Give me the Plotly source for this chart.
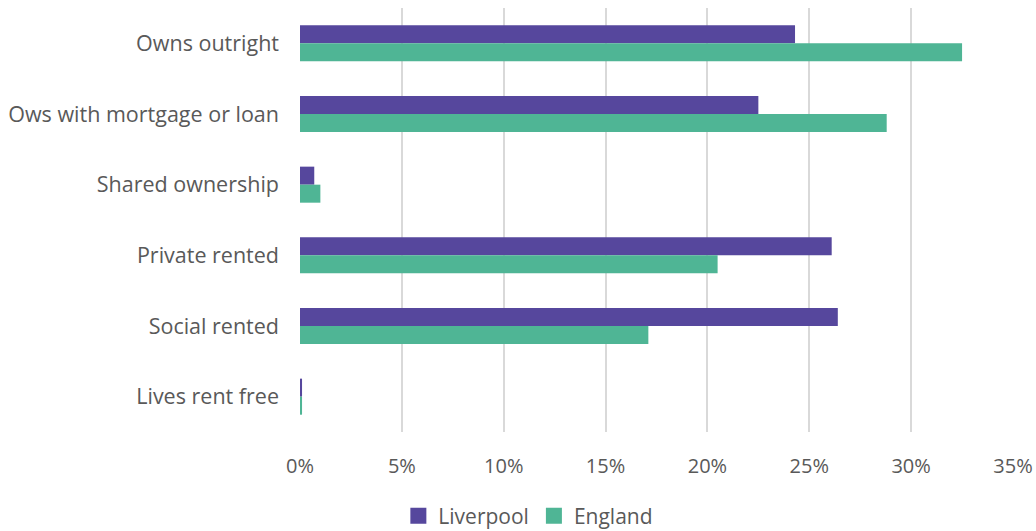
import plotly.graph_objects as go

categories = ["Owns outright", "Ows with mortgage or loan", "Shared ownership",
              "Private rented", "Social rented", "Lives rent free"]
liverpool = [24.3, 22.5, 0.7, 26.1, 26.4, 0.1]
england = [32.5, 28.8, 1.0, 20.5, 17.1, 0.1]
tick_vals = [0, 5, 10, 15, 20, 25, 30, 35]
tick_text = ["0%", "5%", "10%", "15%", "20%", "25%", "30%", "35%"]

font_family = "Open Sans"
text_color = "#595959"
col_liv = "#56479D"
col_eng = "#4FB595"

fig = go.Figure()
fig.add_trace(go.Bar(y=categories, x=liverpool, name="Liverpool", orientation="h",
                     marker=dict(color=col_liv, line=dict(width=0)), showlegend=False))
fig.add_trace(go.Bar(y=categories, x=england, name="England", orientation="h",
                     marker=dict(color=col_eng, line=dict(width=0)), showlegend=False))

# legend entries with larger square swatches
for name, col in [("Liverpool", col_liv), ("England", col_eng)]:
    fig.add_trace(go.Scatter(x=[None], y=[None], mode="markers", name=name,
                             marker=dict(symbol="square", size=16, color=col)))

fig.update_layout(
    width=1036, height=531,
    margin=dict(l=300, r=23, t=8, b=99),
    paper_bgcolor="white", plot_bgcolor="white",
    barmode="group", bargap=0.49, bargroupgap=0,
    font=dict(family=font_family, size=21.5, color=text_color),
    legend=dict(orientation="h", xref="container", x=0.51, xanchor="center",
                yref="container", y=0.028, yanchor="middle",
                font=dict(size=21, color=text_color), itemwidth=30,
                traceorder="normal"),
    showlegend=True,
)
fig.update_xaxes(range=[0, 35], tickvals=tick_vals, ticktext=tick_text,
                 showgrid=True, gridcolor="#D9D9D9", gridwidth=2,
                 zeroline=False, showline=False, ticks="", automargin=False,
                 ticklabelstandoff=20, tickfont=dict(size=20, color=text_color))
fig.update_yaxes(autorange="reversed", showgrid=False, zeroline=False,
                 showline=False, ticks="", ticklabelstandoff=20, automargin=False,
                 tickfont=dict(size=21.5, color=text_color))

fig.write_html("out.html")
